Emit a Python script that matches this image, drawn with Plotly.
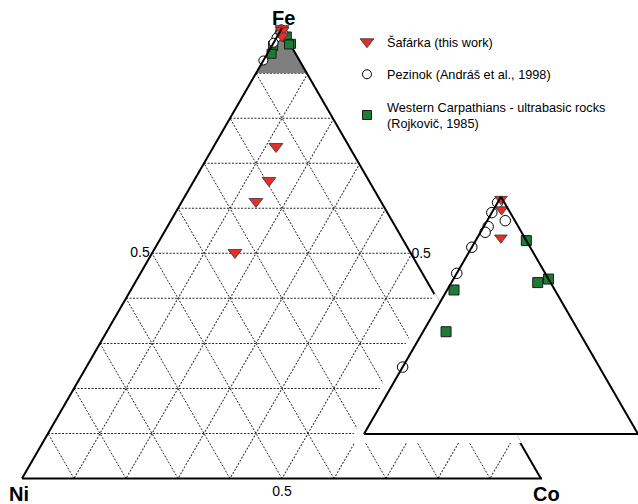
import plotly.graph_objects as go

# ---------------------------------------------------------------
# Fe - Ni - Co proportions (each row sums to 1)
# ---------------------------------------------------------------
safarka_fe = [0.7373, 0.6618, 0.6151, 0.5019, 0.9990, 0.9946, 0.9827]
safarka_ni = [0.1429, 0.1941, 0.2425, 0.3395, 0.0005, 0.0025, 0.0087]
safarka_co = [0.1198, 0.1441, 0.1424, 0.1586, 0.0005, 0.0029, 0.0086]

pezinok_fe = [0.9975, 0.9933, 0.9899, 0.9874, 0.9850, 0.9787, 0.9677, 0.9282]
pezinok_ni = [0.0025, 0.0067, 0.0035, 0.0110, 0.0133, 0.0213, 0.0323, 0.0718]
pezinok_co = [0.0000, 0.0000, 0.0066, 0.0016, 0.0017, 0.0000, 0.0000, 0.0000]

carpath_fe = [0.9815, 0.9653, 0.9638, 0.9607, 0.9431]
carpath_ni = [0.0000, 0.0000, 0.0047, 0.0368, 0.0485]
carpath_co = [0.0185, 0.0347, 0.0315, 0.0025, 0.0084]

grid_vals = [0.1, 0.2, 0.3, 0.4, 0.5, 0.6, 0.7, 0.8, 0.9]
grid_text = ["", "", "", "", "0.5", "", "", "", ""]

names = [
    "Šafárka (this work)",
    "Pezinok (Andráš et al., 1998)",
    "Western Carpathians - ultrabasic rocks<br>(Rojkovič, 1985)",
]
corner_labels = ["Fe", "Ni", "Co"]
INSET_FE_MIN = 0.9

# ---------------------------------------------------------------
# page geometry (px)
# ---------------------------------------------------------------
W, H = 638, 504
SQ3 = 3 ** 0.5
FONT = "Liberation Sans, Arial, sans-serif"
RED, GREEN, GREY = "#e3302b", "#1f7a34", "#7f7f7f"

MAIN_L, MAIN_R, MAIN_BASE = 22.0, 542.0, 478.5
INSET_L, INSET_R, INSET_BASE = 364.0, 638.0, 434.0
HALO = 9.0  # white margin kept around the enlarged corner


def domain(left, right, base):
    height = (right - left) * SQ3 / 2
    return dict(x=[left / W, right / W],
                y=[(H - base) / H, (H - base + height) / H])


def main_coords(px, py):
    """page pixel -> (Fe, Ni, Co) of the main diagram"""
    side = MAIN_R - MAIN_L
    fe = (MAIN_BASE - py) / (side * SQ3 / 2)
    u = (px - (MAIN_L + MAIN_R) / 2) / (side / 2)
    return fe, (1 - fe - u) / 2, (1 - fe + u) / 2


# white band around the inset, expressed in main-diagram coordinates
in_side = INSET_R - INSET_L
in_h = in_side * SQ3 / 2
cx, cy = (INSET_L + INSET_R) / 2, INSET_BASE - in_h / 3
corners = [((INSET_L + INSET_R) / 2, INSET_BASE - in_h), (INSET_L, INSET_BASE), (INSET_R, INSET_BASE)]
halo_pts = []
for px, py in corners:
    dx, dy = px - cx, py - cy
    r = (dx * dx + dy * dy) ** 0.5
    halo_pts.append(main_coords(px + dx / r * 2 * HALO, py + dy / r * 2 * HALO))
halo_pts.append(halo_pts[0])

fig = go.Figure()

# shaded Fe-rich corner (region shown enlarged)
fig.add_trace(go.Scatterternary(
    subplot="ternary", a=[1, INSET_FE_MIN, INSET_FE_MIN, 1], b=[0, 1 - INSET_FE_MIN, 0, 0],
    c=[0, 0, 1 - INSET_FE_MIN, 0], mode="lines", fill="toself", fillcolor=GREY,
    line=dict(width=0), hoverinfo="skip", showlegend=False))
# Fe-Co side of the main triangle
fig.add_trace(go.Scatterternary(
    subplot="ternary", a=[1, 0], b=[0, 0], c=[0, 1], mode="lines",
    line=dict(color="black", width=4), hoverinfo="skip", showlegend=False))
# blank band behind the inset
fig.add_trace(go.Scatterternary(
    subplot="ternary", a=[p[0] for p in halo_pts], b=[p[1] for p in halo_pts],
    c=[p[2] for p in halo_pts], mode="lines", fill="toself", fillcolor="white",
    line=dict(width=0), hoverinfo="skip", showlegend=False))

series = [
    (carpath_fe, carpath_ni, carpath_co, names[2], 3,
     dict(symbol="square", color=GREEN, line=dict(color="#1a1a1a", width=1)), (9, 10)),
    (pezinok_fe, pezinok_ni, pezinok_co, names[1], 2,
     dict(symbol="circle", color="white", line=dict(color="black", width=1)), (9, 10.5)),
    (safarka_fe, safarka_ni, safarka_co, names[0], 1,
     dict(symbol="triangle-down", color=RED, line=dict(color="#333333", width=0.8)), (12, 11)),
]

for fe, ni, co, name, rank, mk, (s_main, s_in) in series:
    fig.add_trace(go.Scatterternary(
        subplot="ternary", a=fe, b=ni, c=co, mode="markers", name=name,
        legendgroup=name, legendrank=rank, cliponaxis=False,
        marker=dict(size=s_main, **mk), hoverinfo="skip"))
    keep = [i for i, v in enumerate(fe) if v >= INSET_FE_MIN]
    fig.add_trace(go.Scatterternary(
        subplot="ternary2", a=[fe[i] for i in keep], b=[ni[i] for i in keep],
        c=[co[i] for i in keep], mode="markers", name=name, legendgroup=name,
        showlegend=False, cliponaxis=False, marker=dict(size=s_in, **mk), hoverinfo="skip"))

main_axis = dict(
    tickmode="array", tickvals=grid_vals, ticktext=grid_text, ticks="",
    showgrid=True, gridcolor="#2a2a2a", gridwidth=1, griddash="2px,1.5px",
    showline=True, linecolor="black", linewidth=2,
    tickfont=dict(family=FONT, size=14, color="black"), title=dict(text=""))
inset_axis = dict(showgrid=False, showticklabels=False, ticks="", showline=True,
                  linecolor="black", linewidth=2, title=dict(text=""))

fig.update_layout(
    width=W, height=H, margin=dict(l=0, r=0, t=0, b=0),
    paper_bgcolor="white", plot_bgcolor="white",
    font=dict(family=FONT, color="black"),
    ternary=dict(
        domain=domain(MAIN_L, MAIN_R, MAIN_BASE), sum=1, bgcolor="white",
        aaxis=main_axis, baxis=main_axis, caxis=dict(main_axis, showline=False)),
    ternary2=dict(
        domain=domain(INSET_L, INSET_R, INSET_BASE), sum=1, bgcolor="white",
        aaxis=dict(inset_axis, min=INSET_FE_MIN), baxis=dict(inset_axis, min=0),
        caxis=dict(inset_axis, min=0)),
    legend=dict(x=347 / W, y=(H - 27) / H, xanchor="left", yanchor="top",
                bgcolor="rgba(0,0,0,0)", font=dict(family=FONT, size=12.7, color="black"),
                tracegroupgap=13, itemclick=False, itemdoubleclick=False),
    showlegend=True,
)

top = domain(MAIN_L, MAIN_R, MAIN_BASE)
lab_font = dict(family=FONT, size=20, color="black")
fig.add_annotation(text="<b>%s</b>" % corner_labels[0], x=sum(top["x"]) / 2, y=top["y"][1],
                   xref="paper", yref="paper", xanchor="center", yanchor="bottom",
                   xshift=1, yshift=-3, showarrow=False, font=lab_font)
fig.add_annotation(text="<b>%s</b>" % corner_labels[1], x=top["x"][0], y=top["y"][0],
                   xref="paper", yref="paper", xanchor="center", yanchor="top",
                   xshift=-3, yshift=-2, showarrow=False, font=lab_font)
fig.add_annotation(text="<b>%s</b>" % corner_labels[2], x=top["x"][1], y=top["y"][0],
                   xref="paper", yref="paper", xanchor="center", yanchor="top",
                   xshift=4, yshift=-2, showarrow=False, font=lab_font)

fig.write_html("out.html", config=dict(displayModeBar=False))
